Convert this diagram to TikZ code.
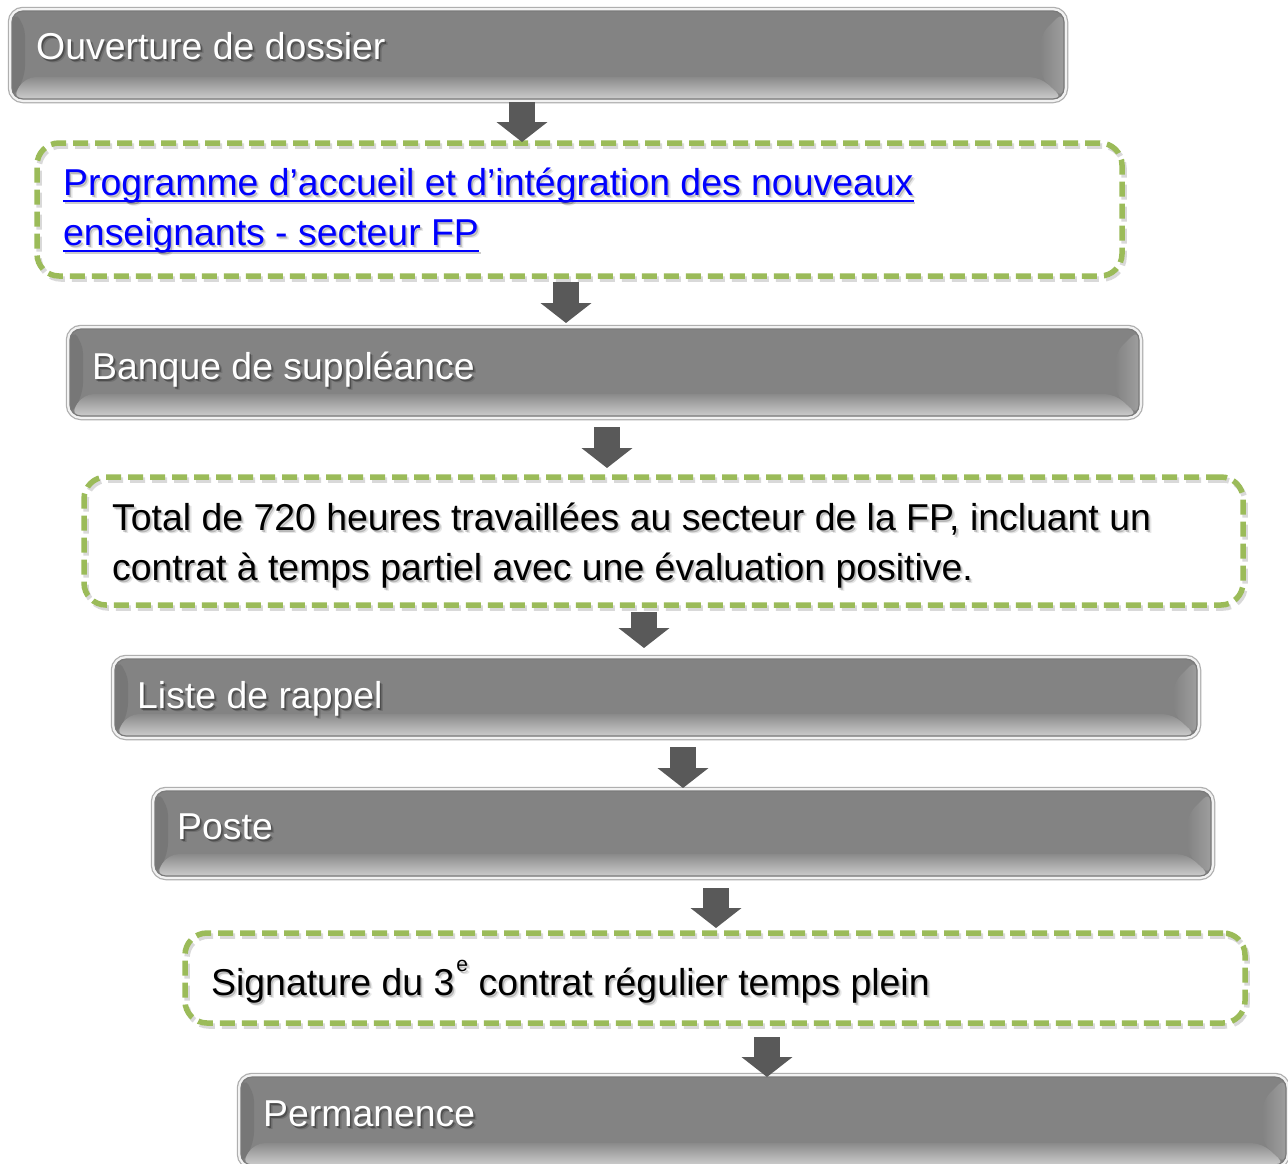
\documentclass[tikz,border=0pt]{standalone}
\usepackage{fontspec}
\setmainfont{Liberation Sans}
\usetikzlibrary{arrows.meta}
\definecolor{boxfill}{HTML}{838383}
\definecolor{leftbev}{HTML}{777777}
\definecolor{ringout}{HTML}{AFAFAF}
\definecolor{ringlight}{HTML}{F2F2F2}
\definecolor{ringdark}{HTML}{7A7A7A}
\definecolor{dgreen}{HTML}{9BBB59}
\definecolor{arrowc}{HTML}{595959}
\definecolor{linkblue}{HTML}{0000FF}
\newcommand\fs{\fontsize{37.4}{50}\selectfont}
\newcommand\mytxt[6]{% name, x, y, color, shadow opacity, text
  \node[txt, text=black, opacity=#5/2] (#1s2) at (#2+3,#3+3.5) {#6};
  \node[txt, text=black, opacity=#5] (#1s) at (#2+1.5,#3+2) {#6};
  \node[txt, text=#4] (#1) at (#2,#3) {#6};}
\tikzset{
  txt/.style={anchor=base west, inner sep=0pt, font=\fs},
  greybox/.style={rectangle, rounded corners=11pt, draw=ringdark, line width=1.2pt,
    fill=boxfill, anchor=north west, inner sep=0pt, outer sep=0pt,
    preaction={draw=ringout, line width=8.5pt},
    preaction={draw=ringlight, line width=6pt},
    path picture={
      \fill[leftbev] (path picture bounding box.north west)
        -- ([xshift=13pt,yshift=-13pt]path picture bounding box.north west)
        -- ([xshift=13pt,yshift=22pt]path picture bounding box.south west)
        -- (path picture bounding box.south west) -- cycle;
      \shade[left color=boxfill, right color=black!38] (path picture bounding box.north east)
        -- ([xshift=-24pt,yshift=-24pt]path picture bounding box.north east)
        -- ([xshift=-24pt,yshift=22pt]path picture bounding box.south east)
        -- (path picture bounding box.south east) -- cycle;
      \shade[top color=black!46, bottom color=black!20] (path picture bounding box.south west)
        -- ([xshift=13pt,yshift=22pt]path picture bounding box.south west)
        -- ([xshift=-24pt,yshift=22pt]path picture bounding box.south east)
        -- (path picture bounding box.south east) -- cycle;
    }},
  dashbox/.style={rectangle, rounded corners=22pt, draw=dgreen, line width=5.5pt,
    dash pattern=on 15pt off 7pt, anchor=north west, inner sep=0pt, outer sep=0pt,
    preaction={draw=black, opacity=.15, transform canvas={xshift=2pt,yshift=-3pt}}},
  blockarrow/.style={draw=arrowc, line width=26pt, -{Triangle[width=50pt,length=20pt]}},
  ul/.style={draw=linkblue, line width=2.5pt}
}
\begin{document}
\begin{tikzpicture}[x=1pt,y=-1pt]
\useasboundingbox (0,0) rectangle (1288,1163);
\fill[white] (0,0) rectangle (1288,1163);
\clip (0,0) rectangle (1288,1163);

% boxes
\node[greybox, minimum width=1052pt, minimum height=88pt] (b1) at (12,11) {};
\node[dashbox, minimum width=1085pt, minimum height=133pt] (b2) at (37,143) {};
\node[greybox, minimum width=1069pt, minimum height=87pt] (b3) at (70,329) {};
\node[dashbox, minimum width=1159pt, minimum height=128pt] (b4) at (84,477) {};
\node[greybox, minimum width=1082pt, minimum height=77pt] (b5) at (115,659) {};
\node[greybox, minimum width=1056pt, minimum height=85pt] (b6) at (155,791) {};
\node[dashbox, minimum width=1060pt, minimum height=90pt] (b7) at (185,933) {};
\node[greybox, minimum width=1045pt, minimum height=88pt] (b8) at (241,1077) {};

% texts
\mytxt{t1}{36}{59}{white}{.3}{Ouverture de dossier}
\mytxt{l1}{63}{195}{linkblue}{.2}{Programme d’accueil et d’intégration des nouveaux}
\mytxt{l2}{63}{245}{linkblue}{.2}{enseignants - secteur FP}
\draw[ul, black, opacity=.2] ([shift={(1.5pt,-8pt)}]l1.base west) -- ([shift={(1.5pt,-8pt)}]l1.base east);
\draw[ul, black, opacity=.2] ([shift={(1.5pt,-8pt)}]l2.base west) -- ([shift={(1.5pt,-8pt)}]l2.base east);
\draw[ul] ([yshift=-6pt]l1.base west) -- ([yshift=-6pt]l1.base east);
\draw[ul] ([yshift=-6pt]l2.base west) -- ([yshift=-6pt]l2.base east);
\mytxt{t3}{92}{379}{white}{.3}{Banque de suppléance}
\mytxt{t4a}{112}{530}{black}{.2}{Total de 720 heures travaillées au secteur de la FP, incluant un}
\mytxt{t4b}{112}{580}{black}{.2}{contrat à temps partiel avec une évaluation positive.}
\mytxt{t5}{137}{708}{white}{.3}{Liste de rappel}
\mytxt{t6}{177}{839}{white}{.3}{Poste}
\mytxt{t7}{211}{995}{black}{.2}{Signature du 3\raisebox{24pt}{\kern2pt\fontsize{21}{21}\selectfont e} contrat régulier temps plein}
\mytxt{t8}{263}{1126}{white}{.3}{Permanence}

% connectors
\coordinate (x1) at (522,0);
\coordinate (x2) at (566,0);
\coordinate (x3) at (607,0);
\coordinate (x4) at (644,0);
\coordinate (x5) at (683,0);
\coordinate (x6) at (716,0);
\coordinate (x7) at (767,0);
\draw[blockarrow, shorten <=3pt, shorten >=1pt] (b1.south -| x1) -- (b2.north -| x1);
\draw[blockarrow, shorten <=6pt, shorten >=6pt] (b2.south -| x2) -- (b3.north -| x2);
\draw[blockarrow, shorten <=11pt, shorten >=9pt] (b3.south -| x3) -- (b4.north -| x3);
\draw[blockarrow, shorten <=7pt, shorten >=11pt] (b4.south -| x4) -- (b5.north -| x4);
\draw[blockarrow, shorten <=11pt, shorten >=3pt] (b5.south -| x5) -- (b6.north -| x5);
\draw[blockarrow, shorten <=12pt, shorten >=5pt] (b6.south -| x6) -- (b7.north -| x6);
\draw[blockarrow, shorten <=14pt, shorten >=0pt] (b7.south -| x7) -- (b8.north -| x7);
\end{tikzpicture}
\end{document}
